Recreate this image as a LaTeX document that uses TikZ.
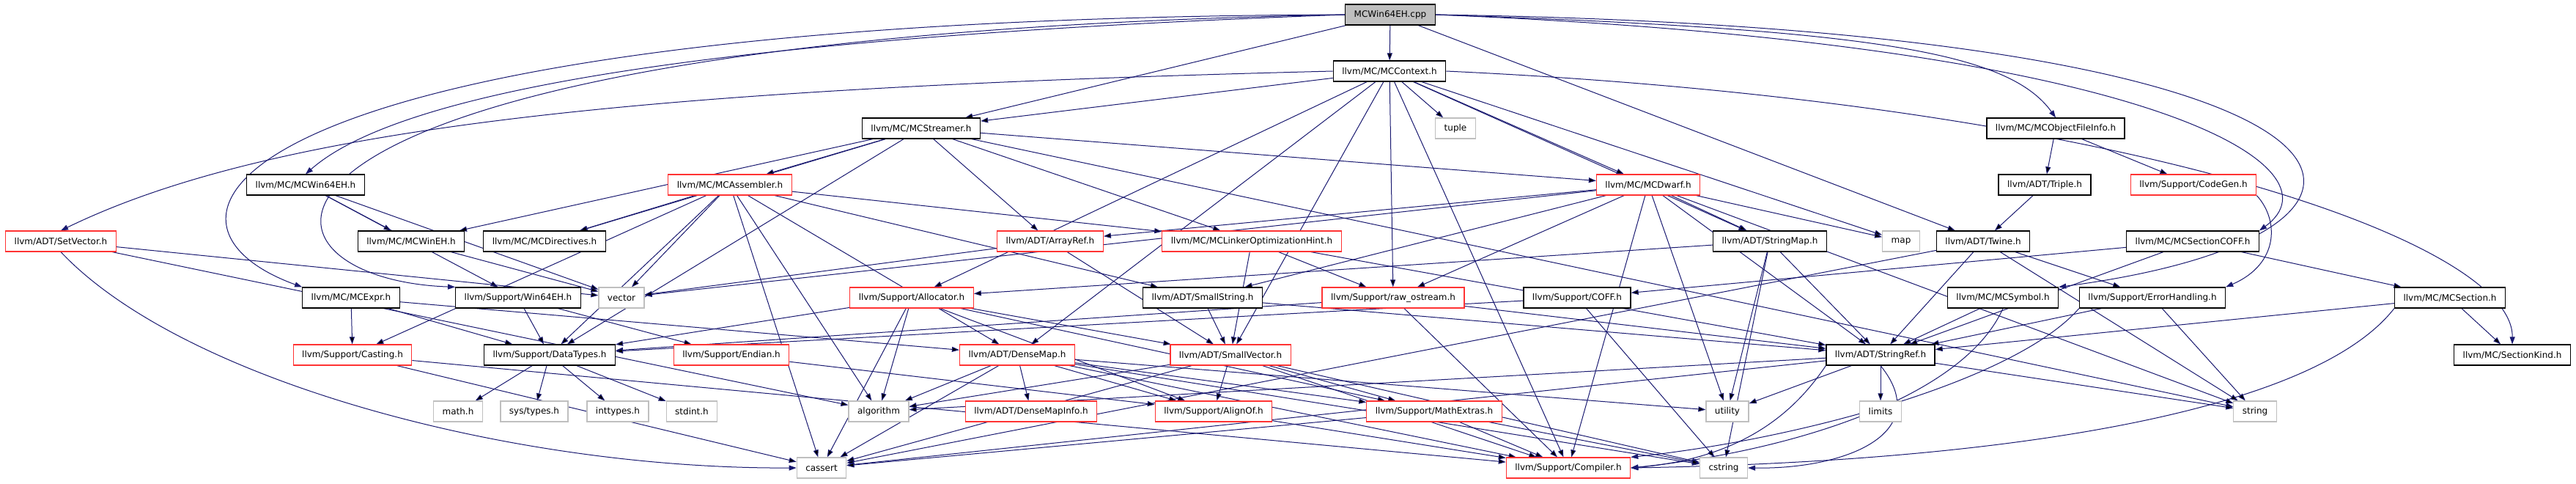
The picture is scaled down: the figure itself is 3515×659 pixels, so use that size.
\documentclass[tikz,border=0pt]{standalone}
\usepackage{fontspec}
\setmainfont{DejaVu Sans}
\usepackage{tikz}
\usetikzlibrary{arrows.meta,backgrounds}
\definecolor{edgeblue}{HTML}{191970}
\definecolor{truncred}{HTML}{FF3333}
\definecolor{sysgray}{HTML}{BFBFBF}

\begin{document}
\begin{tikzpicture}[x=0.5pt,y=0.5pt,>={Triangle[length=5pt,width=3.5pt]}]
  \tikzstyle{hdrbox}=[draw=black,line width=0.6pt,fill=white,minimum height=14pt,inner xsep=6pt,inner ysep=0pt,font=\fontsize{6}{7}\selectfont]
  \tikzstyle{redbox}=[hdrbox,draw=truncred]
  \tikzstyle{sysbox}=[hdrbox,draw=sysgray]
  \tikzstyle{rootbox}=[hdrbox,fill=sysgray]
  \tikzstyle{dep}=[->,draw=edgeblue,line width=0.5pt]
  \useasboundingbox (0,0) rectangle (3515,-659);
  % top rows
  \node[rootbox] (cpp) at (1897,-20) {MCWin64EH.cpp};
  \node[hdrbox] (ctx) at (1896,-97) {llvm/MC/MCContext.h};
  \node[hdrbox] (strm) at (1257,-175) {llvm/MC/MCStreamer.h};
  \node[sysbox] (tuple) at (1986,-175) {tuple};
  \node[hdrbox] (ofi) at (2805,-175) {llvm/MC/MCObjectFileInfo.h};
  \node[hdrbox] (w64h) at (417,-252) {llvm/MC/MCWin64EH.h};
  \node[redbox] (asm) at (996,-252) {llvm/MC/MCAssembler.h};
  \node[redbox] (dwarf) at (2249,-252) {llvm/MC/MCDwarf.h};
  \node[hdrbox] (triple) at (2790,-252) {llvm/ADT/Triple.h};
  \node[redbox] (codegen) at (2993,-252) {llvm/Support/CodeGen.h};
  \node[redbox] (setvec) at (83,-329) {llvm/ADT/SetVector.h};
  \node[hdrbox] (wineh) at (561,-329) {llvm/MC/MCWinEH.h};
  \node[hdrbox] (dirs) at (743,-329) {llvm/MC/MCDirectives.h};
  \node[redbox] (arrayref) at (1433,-329) {llvm/ADT/ArrayRef.h};
  \node[redbox] (loh) at (1708,-329) {llvm/MC/MCLinkerOptimizationHint.h};
  \node[hdrbox] (strmap) at (2415,-329) {llvm/ADT/StringMap.h};
  \node[sysbox] (map) at (2594,-329) {map};
  \node[hdrbox] (twine) at (2706,-329) {llvm/ADT/Twine.h};
  \node[hdrbox] (seccoff) at (2992,-329) {llvm/MC/MCSectionCOFF.h};
  % middle rows
  \node[hdrbox] (expr) at (479,-406) {llvm/MC/MCExpr.h};
  \node[hdrbox] (win64eh) at (707,-406) {llvm/Support/Win64EH.h};
  \node[sysbox] (vector) at (848,-406) {vector};
  \node[redbox] (alloc) at (1244,-406) {llvm/Support/Allocator.h};
  \node[hdrbox] (smallstr) at (1641,-406) {llvm/ADT/SmallString.h};
  \node[redbox] (rawos) at (1901,-406) {llvm/Support/raw\_ostream.h};
  \node[hdrbox] (coff) at (2152,-406) {llvm/Support/COFF.h};
  \node[hdrbox] (symbol) at (2733,-406) {llvm/MC/MCSymbol.h};
  \node[hdrbox] (errh) at (2937,-406) {llvm/Support/ErrorHandling.h};
  \node[hdrbox] (section) at (3343,-406) {llvm/MC/MCSection.h};
  \node[redbox] (casting) at (481,-484) {llvm/Support/Casting.h};
  \node[hdrbox] (datatypes) at (750,-484) {llvm/Support/DataTypes.h};
  \node[redbox] (endian) at (998,-484) {llvm/Support/Endian.h};
  \node[redbox] (densemap) at (1388,-484) {llvm/ADT/DenseMap.h};
  \node[redbox] (smallvec) at (1679,-484) {llvm/ADT/SmallVector.h};
  \node[hdrbox] (strref) at (2566,-484) {llvm/ADT/StringRef.h};
  \node[hdrbox] (seckind) at (3428,-484) {llvm/MC/SectionKind.h};
  % bottom rows
  \node[sysbox] (math) at (625,-561) {math.h};
  \node[sysbox] (systypes) at (729,-561) {sys/types.h};
  \node[sysbox] (inttypes) at (843,-561) {inttypes.h};
  \node[sysbox] (stdint) at (944,-561) {stdint.h};
  \node[sysbox] (algorithm) at (1199,-561) {algorithm};
  \node[redbox] (dmapinfo) at (1407,-561) {llvm/ADT/DenseMapInfo.h};
  \node[redbox] (alignof) at (1656,-561) {llvm/Support/AlignOf.h};
  \node[redbox] (mathext) at (1957,-561) {llvm/Support/MathExtras.h};
  \node[sysbox] (utility) at (2357,-561) {utility};
  \node[sysbox] (limits) at (2566,-561) {limits};
  \node[sysbox] (string) at (3077,-561) {string};
  \node[sysbox] (cassert) at (1121,-638) {cassert};
  \node[redbox] (compiler) at (2140,-638) {llvm/Support/Compiler.h};
  \node[sysbox] (cstring) at (2352,-638) {cstring};

  \begin{scope}[on background layer]
    % the long ones, routed round the others
    \draw[dep] (cpp.west) .. controls (1000,-50) and (550,-120) .. (w64h.north);
    \draw[dep] (cpp.west) .. controls (300,-25) and (160,-300) .. (expr.north west);
    \draw[dep] (cpp.west) .. controls (250,-50) and (300,-380) .. (win64eh.north west);
    \draw[dep] (cpp.east) .. controls (2550,-40) and (2740,-70) .. (ofi.north);
    \draw[dep] (cpp.east) .. controls (2950,-60) and (3200,-230) .. (seccoff.north east);
    \draw[dep] (cpp.east) .. controls (3320,-40) and (3360,-320) .. (symbol.north east);
    \draw[dep] (ctx.west) .. controls (900,-120) and (380,-170) .. (setvec.north);
    \draw[dep] (ctx.east) .. controls (2900,-140) and (3430,-330) .. (seckind.north);
    \draw[dep] (codegen.south east) .. controls (3110,-300) and (3110,-360) .. (errh.north east);
    \draw[dep] (setvec.south) .. controls (250,-520) and (700,-640) .. (cassert.west);
    \draw[dep] (strref.south west) .. controls (2450,-560) and (2380,-625) .. (compiler.east);
    \draw[dep] (strref.south) .. controls (2640,-590) and (2520,-640) .. (cstring.east);
    \draw[dep] (errh.south west) .. controls (2750,-520) and (2450,-600) .. (compiler.north east);
    \draw[dep] (symbol.south) .. controls (2680,-540) and (2450,-615) .. (compiler.east);
    \draw[dep] (section.south west) .. controls (3150,-570) and (2700,-630) .. (compiler.east);
    % includes, one path per file
    \path[dep] (cpp) edge (ctx) edge (strm) edge (twine);
    \path[dep] (ctx) edge (strm) edge (tuple) edge (dwarf) edge (densemap) edge (smallvec)
      edge (strmap) edge (map) edge (alloc) edge (rawos) edge (compiler);
    \path[dep] (strm) edge (asm) edge (dirs) edge (wineh) edge (dwarf) edge (loh)
      edge (arrayref) edge (datatypes) edge (string);
    \path[dep] (ofi) edge (triple) edge (codegen);
    \path[dep] (w64h) edge (wineh) edge (win64eh) edge (vector);
    \path[dep] (asm) edge (dirs) edge (loh) edge (densemap) edge (smallstr) edge (casting)
      edge (datatypes) edge (algorithm) edge (vector) edge (cassert);
    \path[dep] (dwarf) edge (arrayref) edge (strmap) edge (map) edge (vector) edge (smallstr)
      edge (rawos) edge (compiler) edge (utility) edge (strref) edge (string);
    \path[dep] (triple) edge (twine);
    \path[dep] (setvec) edge (vector) edge (algorithm);
    \path[dep] (wineh) edge (vector);
    \path[dep] (arrayref) edge (smallvec) edge (vector);
    \path[dep] (loh) edge (smallvec) edge (strref) edge (rawos);
    \path[dep] (strmap) edge (alloc) edge (strref) edge (utility) edge (cstring);
    \path[dep] (twine) edge (errh) edge (strref) edge (cassert) edge (string);
    \path[dep] (seccoff) edge (coff) edge (section) edge (strref);
    \path[dep] (expr) edge (casting) edge (datatypes) edge (densemap);
    \path[dep] (win64eh) edge (datatypes) edge (endian);
    \path[dep] (alloc) edge (datatypes) edge (smallvec) edge (alignof) edge (mathext)
      edge (algorithm) edge (cassert);
    \path[dep] (smallstr) edge (smallvec) edge (strref);
    \path[dep] (rawos) edge (datatypes) edge (strref) edge (compiler);
    \path[dep] (coff) edge (datatypes) edge (cstring);
    \path[dep] (symbol) edge (strref);
    \path[dep] (errh) edge (strref) edge (string);
    \path[dep] (section) edge (seckind) edge (strref);
    \path[dep] (casting) edge (cassert) edge (compiler);
    \path[dep] (datatypes) edge (math) edge (systypes) edge (inttypes) edge (stdint);
    \path[dep] (endian) edge (alignof);
    \path[dep] (densemap) edge (dmapinfo) edge (alignof) edge (mathext) edge (algorithm)
      edge (cassert) edge (compiler) edge (utility) edge (cstring);
    \path[dep] (smallvec) edge (alignof) edge (mathext) edge (algorithm) edge (cassert)
      edge (compiler) edge (cstring);
    \path[dep] (strref) edge (algorithm) edge (cassert) edge (limits) edge (string)
      edge (utility);
    \path[dep] (alignof) edge (compiler);
    \path[dep] (mathext) edge (compiler) edge (cassert) edge (cstring);
  \end{scope}
\end{tikzpicture}
\end{document}
